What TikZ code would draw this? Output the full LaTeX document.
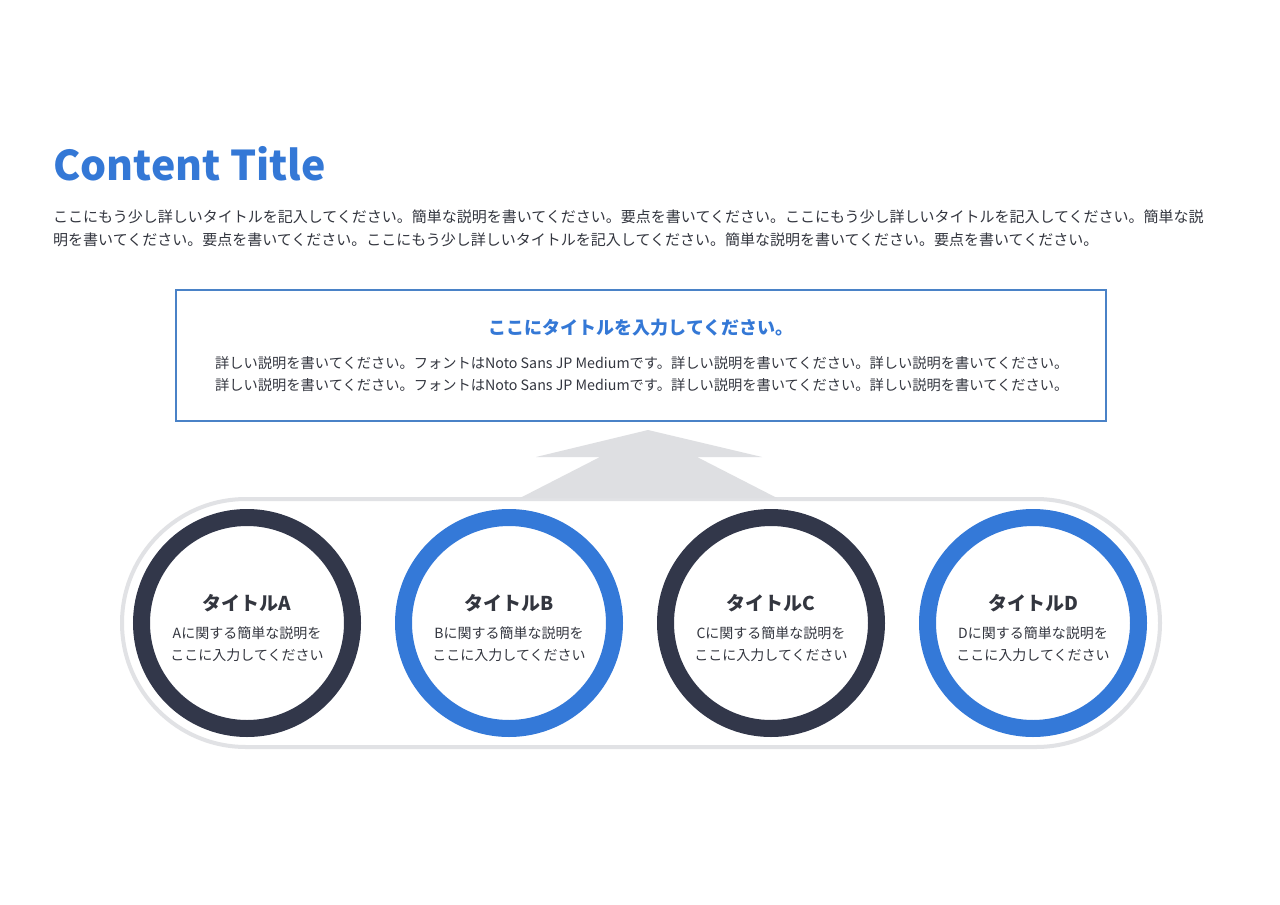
\documentclass[tikz,border=0pt]{standalone}
\usepackage{fontspec}
\setmainfont{Noto Sans CJK JP}
\usetikzlibrary{backgrounds}

\definecolor{titleblue}{HTML}{3478D6}
\definecolor{boxblue}{HTML}{4A82C7}
\definecolor{ringdark}{HTML}{32374A}
\definecolor{ringblue}{HTML}{3479D8}
\definecolor{bodytext}{HTML}{33363F}
\definecolor{arrowgray}{HTML}{DEDFE2}
\definecolor{pillgray}{HTML}{E1E2E5}

\begin{document}
\begin{tikzpicture}[x=1pt, y=-1pt,
  background rectangle/.style={fill=white}, show background rectangle,
  body/.style={text=bodytext, inner sep=0pt, font=\fontsize{14}{22}\selectfont},
  ring/.style={circle, line width=17pt, fill=white, minimum size=211pt, inner sep=0pt}]
\useasboundingbox (0,0) rectangle (1280,905);

% heading
\node[anchor=base west, inner sep=0pt, text=titleblue, font=\fontsize{41}{46}\selectfont\bfseries] (title) at (53,180) {Content Title};
\node[body, anchor=base west, font=\fontsize{15}{23}\selectfont] (lead1) at (53,222) {ここにもう少し詳しいタイトルを記入してください。簡単な説明を書いてください。要点を書いてください。ここにもう少し詳しいタイトルを記入してください。簡単な説};
\node[body, anchor=base west, font=\fontsize{15}{23}\selectfont] (lead2) at (53,245) {明を書いてください。要点を書いてください。ここにもう少し詳しいタイトルを記入してください。簡単な説明を書いてください。要点を書いてください。};

% top box
\draw[boxblue, line width=1.5pt] (176,290) rectangle (1106,421);
\node[text=titleblue, inner sep=0pt, font=\fontsize{18}{20}\selectfont\bfseries] (boxtitle) at (641,328) {ここにタイトルを入力してください。};
\node[body, anchor=base west, font=\fontsize{14.25}{22}\selectfont] (boxtext1) at (215,368) {詳しい説明を書いてください。フォントはNoto Sans JP Mediumです。詳しい説明を書いてください。詳しい説明を書いてください。};
\node[body, anchor=base west, font=\fontsize{14.25}{22}\selectfont] (boxtext2) at (215,390) {詳しい説明を書いてください。フォントはNoto Sans JP Mediumです。詳しい説明を書いてください。詳しい説明を書いてください。};

% pill
\node[draw=pillgray, line width=4pt, fill=white, rounded corners=124pt, minimum width=1038pt, minimum height=248pt, inner sep=0pt] (pill) at (641,623) {};

% arrow
\fill[arrowgray] (648,430) -- (762,457) -- (697,457) -- (777,498) -- (520,498) -- (600,457) -- (536,457) -- cycle;

% circles
\foreach \x/\l/\c in {247/A/ringdark, 509/B/ringblue, 771/C/ringdark, 1033/D/ringblue} {
  \node[ring, draw=\c] (ring\l) at (\x,623) {};
  \node[text=bodytext, inner sep=0pt, font=\fontsize{19}{22}\selectfont\bfseries] (head\l) at (\x,603) {タイトル\l};
  \node[body, align=center] (desc\l) at (\x,644) {\l に関する簡単な説明を\\ここに入力してください};
}

\end{tikzpicture}
\end{document}
